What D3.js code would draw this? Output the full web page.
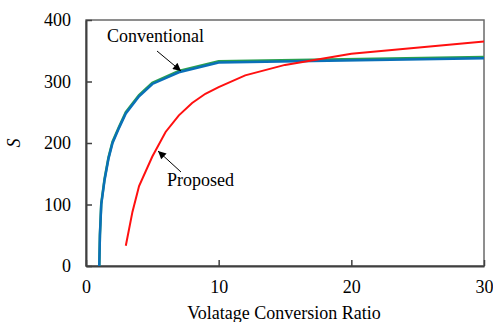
<!DOCTYPE html>
<html>
<head>
<meta charset="utf-8">
<script src="https://cdn.jsdelivr.net/npm/d3@7"></script>
<style>
  body { margin: 0; background: #fff; }
</style>
</head>
<body>
<div id="chart"></div>
<script>
// Data
var xTicks = [0, 10, 20, 30];
var yTicks = [0, 100, 200, 300, 400];

var convX = [1.0, 1.05, 1.15, 1.4, 1.7, 2.0, 2.5, 3, 4, 5, 7, 10, 30];
var convY = [0, 50, 100, 140, 175, 200, 225, 248, 276, 296, 315, 331, 338];
// second (green) series, sits just above the blue one
var convY2 = [0, 52, 102, 142, 177, 202, 227, 250, 278, 298, 317, 333, 340];

var propX = [3, 3.5, 4, 5, 6, 7, 8, 9, 10, 12, 15, 20, 30];
var propY = [33, 88, 130, 178, 218, 245, 265, 280, 291, 310, 327, 345, 365];

var serif = "'Liberation Serif', 'Times New Roman', serif";

var svgWidth = 493, svgHeight = 322;
var margin = { top: 20, left: 86, right: 9, bottom: 56 };
var width = svgWidth - margin.left - margin.right;
var height = svgHeight - margin.top - margin.bottom;

var svg = d3.select("#chart").append("svg")
    .attr("width", svgWidth)
    .attr("height", svgHeight);

var g = svg.append("g")
    .attr("transform", `translate(${margin.left}, ${margin.top})`);

var x = d3.scaleLinear().domain([0, 30]).range([0, width]);
var y = d3.scaleLinear().domain([0, 400]).range([height, 0]);

// frame
g.append("rect")
    .attr("width", width).attr("height", height)
    .attr("fill", "none").attr("stroke", "#6a6a6a").attr("stroke-width", 1.5);

// bottom axis, ticks pointing in
var xAxis = g.append("g")
    .attr("transform", "translate(0," + height + ")")
    .call(d3.axisBottom(x).tickValues(xTicks).tickSizeInner(-6).tickSizeOuter(0).tickPadding(14));
xAxis.select(".domain").attr("stroke", "#404040").attr("stroke-width", 2);
xAxis.selectAll(".tick line").attr("stroke", "#404040").attr("stroke-width", 1.5);
xAxis.selectAll("text").attr("fill", "#000")
    .style("font-family", serif).style("font-size", "18px");

var yAxis = g.append("g")
    .call(d3.axisLeft(y).tickValues(yTicks).tickSizeInner(-6).tickSizeOuter(0).tickPadding(15));
yAxis.select(".domain").attr("stroke", "#404040").attr("stroke-width", 2);
yAxis.selectAll(".tick line").attr("stroke", "#404040").attr("stroke-width", 1.5);
yAxis.selectAll("text").attr("fill", "#000")
    .style("font-family", serif).style("font-size", "18px");

var line = d3.line().x(d => x(d[0])).y(d => y(d[1]));

g.append("path")
    .datum(convX.map((v, i) => [v, convY2[i]]))
    .attr("d", line).attr("fill", "none")
    .attr("stroke", "#2aa050").attr("stroke-width", 2.5);

g.append("path")
    .datum(convX.map((v, i) => [v, convY[i]]))
    .attr("d", line).attr("fill", "none")
    .attr("stroke", "#0a70b8").attr("stroke-width", 2.5);

g.append("path")
    .datum(propX.map((v, i) => [v, propY[i]]))
    .attr("d", line).attr("fill", "none")
    .attr("stroke", "#ff1010").attr("stroke-width", 2);

// arrows
svg.append("defs").append("marker")
    .attr("id", "ah").attr("viewBox", "0 0 10 10")
    .attr("refX", 10).attr("refY", 5)
    .attr("markerWidth", 9).attr("markerHeight", 8)
    .attr("markerUnits", "userSpaceOnUse")
    .attr("orient", "auto")
    .append("path").attr("d", "M0,0L10,5L0,10Z").attr("fill", "#000");

svg.append("line")
    .attr("x1", 157).attr("y1", 51).attr("x2", 181).attr("y2", 71)
    .attr("stroke", "#000").attr("stroke-width", 1).attr("marker-end", "url(#ah)");
svg.append("line")
    .attr("x1", 181).attr("y1", 172).attr("x2", 158).attr("y2", 151)
    .attr("stroke", "#000").attr("stroke-width", 1).attr("marker-end", "url(#ah)");

svg.append("text").attr("x", 107).attr("y", 42)
    .style("font-family", serif).style("font-size", "18px").text("Conventional");
svg.append("text").attr("x", 167).attr("y", 186)
    .style("font-family", serif).style("font-size", "18px").text("Proposed");

// axis titles
svg.append("text")
    .attr("x", 284).attr("y", 319)
    .attr("text-anchor", "middle")
    .style("font-family", serif).style("font-size", "18px")
    .text("Volatage Conversion Ratio");

svg.append("text")
    .attr("transform", "translate(20," + (margin.top + height / 2) + ") rotate(-90)")
    .attr("text-anchor", "middle")
    .style("font-family", serif).style("font-size", "18px").style("font-style", "italic")
    .text("S");
</script>
</body>
</html>
